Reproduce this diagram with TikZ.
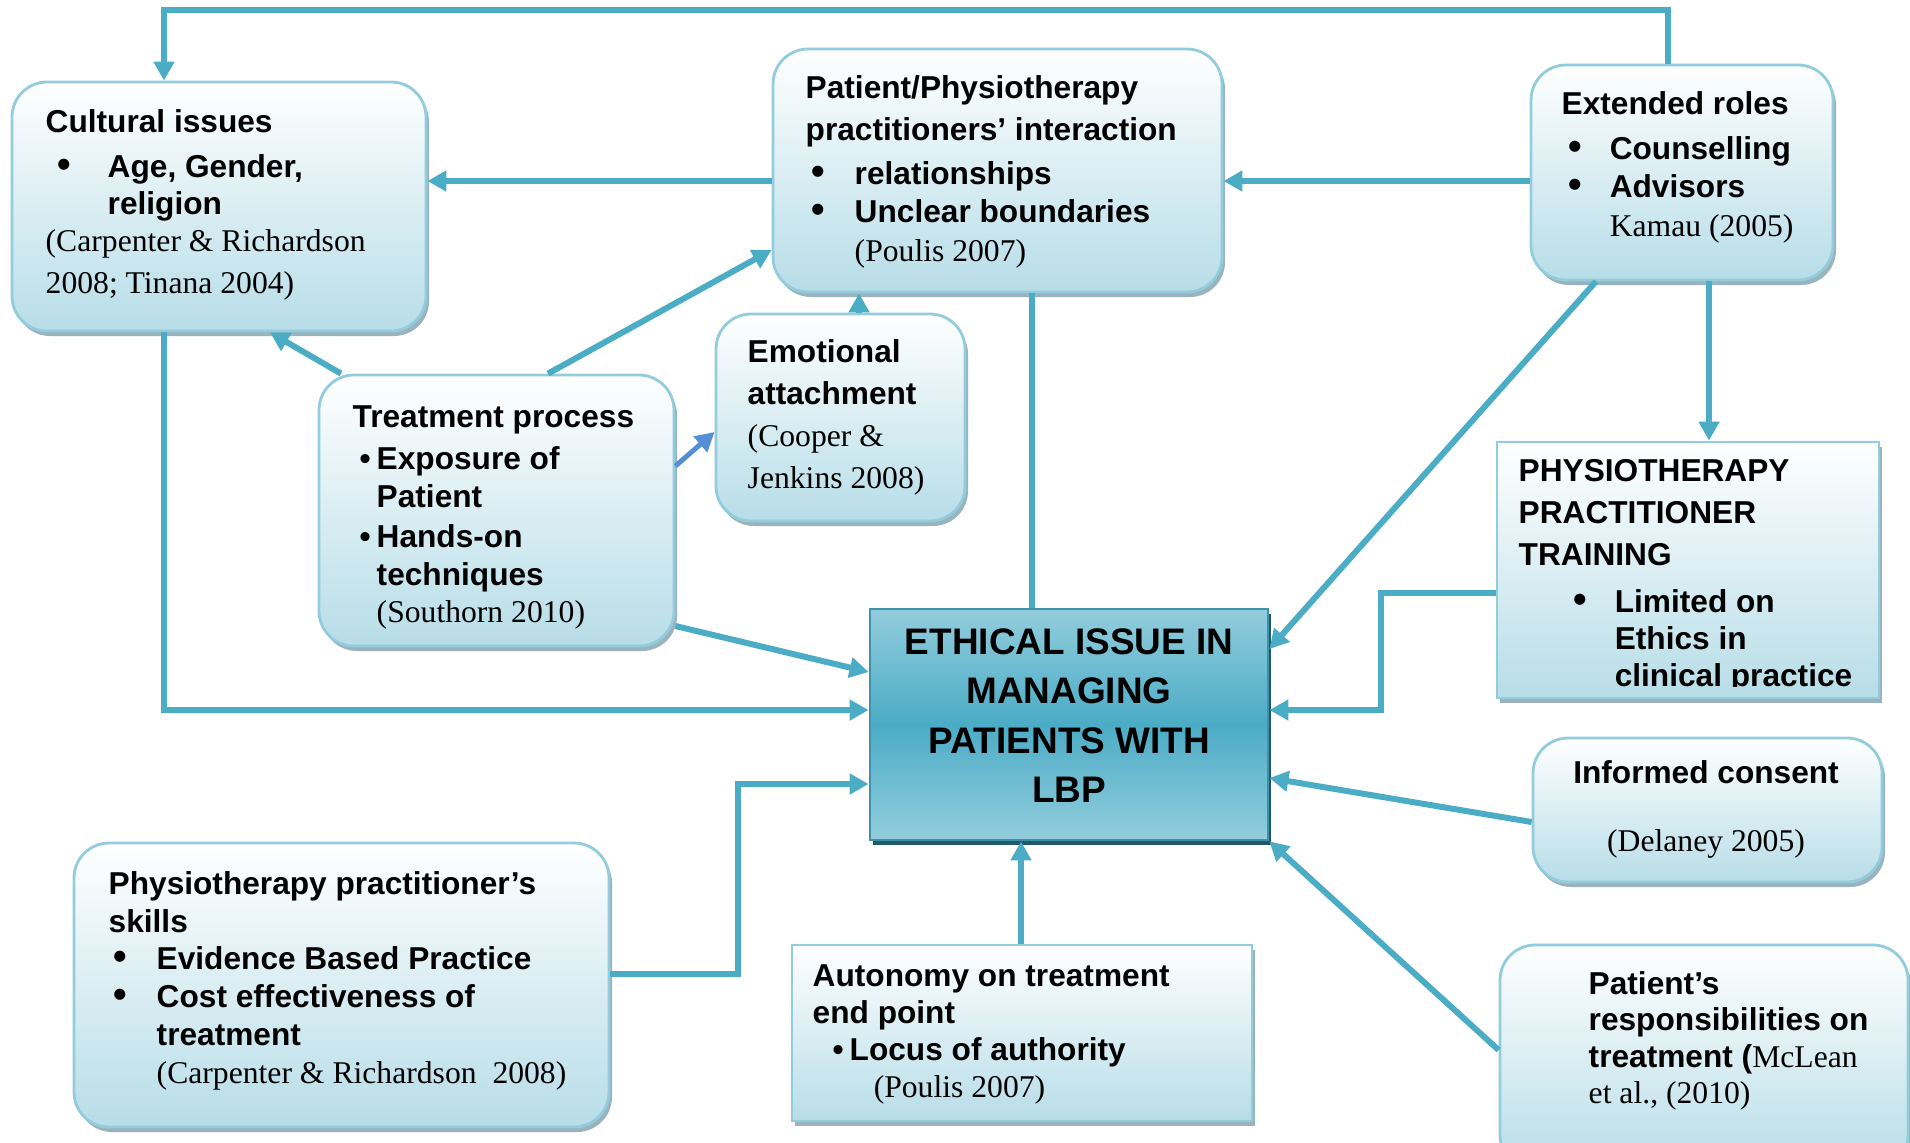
\documentclass[tikz,border=0pt]{standalone}
\usepackage{fontspec}
\setmainfont{Liberation Sans}
\newfontfamily\reffont{Liberation Serif}
\usetikzlibrary{arrows.meta,fit,shadows}

\definecolor{strelka}{HTML}{4BACC6}
\definecolor{ramka}{HTML}{93CDDD}
\definecolor{niz}{HTML}{B7DDE8}
\definecolor{ten}{HTML}{9AB3BD}
\definecolor{centrsvet}{HTML}{93CDDD}
\definecolor{centrten}{HTML}{215968}
\definecolor{sinij}{HTML}{558ED5}

\newcommand{\bul}[2]{\hspace*{#1}\makebox[#2][l]{\fontsize{11}{11}\selectfont\textbullet}}% крупный маркер
\newcommand{\mbul}[2]{\hspace*{#1}\makebox[#2][l]{\textbullet}}% мелкий маркер
\newcommand{\ssylka}[1]{{\reffont\mdseries #1}}% ссылка прямым шрифтом
\newcommand{\lcol}[1]{\begin{tabular}[t]{@{}l@{}}#1\end{tabular}}% строки влево
\newcommand{\ccol}[1]{\begin{tabular}[t]{@{}c@{}}#1\end{tabular}}% строки по центру

\begin{document}
\begin{tikzpicture}[x=0.01cm,y=-0.01cm,
  box/.style={draw=ramka,line width=0.8pt,top color=white,bottom color=niz,
    rounded corners=3.5mm,inner sep=0pt,
    drop shadow={shadow xshift=0.3mm,shadow yshift=-0.5mm,fill=ten,opacity=1}},
  sqbox/.style={box,sharp corners},
  cbox/.style={draw=strelka!85!black,line width=0.8pt,top color=centrsvet,
    bottom color=centrsvet,middle color=strelka,inner sep=0pt,
    drop shadow={shadow xshift=0.3mm,shadow yshift=-0.5mm,fill=centrten,opacity=1}},
  txt/.style={anchor=base west,inner sep=0pt,
    font=\fontsize{9}{#1}\selectfont\bfseries},
  arr/.style={draw=strelka,line width=1.7pt,-{Triangle[length=1.9mm,width=2mm]}},
  lin/.style={draw=strelka,line width=1.7pt}]

\useasboundingbox (0,0) rectangle (1910,1142);
\clip (0,0) rectangle (1910,1142);

\node[box,fit={(12,82) (426,331)}] (cult) {};% рамки
\node[box,fit={(773,49) (1222,292)}] (pat) {};
\node[box,fit={(1531,65) (1833,280)}] (ext) {};
\node[box,fit={(716,314) (965,521)}] (emo) {};
\node[box,fit={(319,375) (674,646)}] (treat) {};
\node[cbox,fit={(870,609) (1268,840)}] (cent) {};
\node[sqbox,fit={(1497,442) (1879,698)}] (train) {};
\node[box,fit={(1533,738) (1882,882)}] (inf) {};
\node[box,fit={(1500,945) (1908,1170)}] (resp) {};
\node[sqbox,fit={(792,945) (1252,1121)}] (auto) {};
\node[box,fit={(74,843) (609,1127)}] (skill) {};

\node[txt=10.5pt] (cultT) at (45,132) {\lcol{Cultural issues\\[2.5pt]
  \bul{0.12cm}{0.50cm}Age, Gender,\\
  \hspace*{0.62cm}religion\\
  \ssylka{(Carpenter \& Richardson}\\[1.5pt]
  \ssylka{2008; Tinana 2004)}}};
\node[txt=11pt] (patT) at (805,98) {\lcol{Patient/Physiotherapy\\[1pt]
  practitioners’ interaction\\[1.5pt]
  \bul{0.06cm}{0.43cm}relationships\\
  \bul{0.06cm}{0.43cm}Unclear boundaries\\
  \hspace*{0.49cm}\ssylka{(Poulis 2007)}}};
\node[txt=11pt] (extT) at (1561,114) {\lcol{Extended roles\\[1.8pt]
  \bul{0.07cm}{0.41cm}Counselling\\
  \bul{0.07cm}{0.41cm}Advisors\\
  \hspace*{0.48cm}\ssylka{Kamau (2005)}}};
\node[txt=12pt] (emoT) at (747,362) {\lcol{Emotional\\ attachment\\
  \ssylka{(Cooper \&}\\ \ssylka{Jenkins 2008)}}};
\node[txt=10.7pt] (treatT) at (352,427) {\lcol{Treatment process\\[1.5pt]
  \mbul{0.07cm}{0.17cm}Exposure of\\
  \hspace*{0.24cm}Patient\\[0.7pt]
  \mbul{0.07cm}{0.17cm}Hands-on\\
  \hspace*{0.24cm}techniques\\
  \hspace*{0.24cm}\ssylka{(Southorn 2010)}}};
\node[anchor=base,inner sep=0pt,
  font=\fontsize{10.5}{14.1pt}\selectfont\bfseries] (centT) at (1069,654)
  {\ccol{ETHICAL ISSUE IN\\ MANAGING\\ PATIENTS WITH\\ LBP}};
\begin{scope}
\clip (1497,442) rectangle (1879,686);% нижняя строка обрезана
\node[txt=10.5pt] (trainT) at (1518,481) {\lcol{PHYSIOTHERAPY\\[1.5pt]
  PRACTITIONER\\[1.5pt]
  TRAINING\\[2.9pt]
  \bul{0.55cm}{0.41cm}Limited on\\
  \hspace*{0.96cm}Ethics in\\
  \hspace*{0.96cm}clinical practice}};
\end{scope}
\node[txt=19.6pt,anchor=base] (infT) at (1706,783)
  {\ccol{Informed consent\\ \ssylka{(Delaney 2005)}}};
\node[txt=10.4pt] (respT) at (1588,994) {\lcol{Patient’s\\ responsibilities on\\
  treatment (\ssylka{McLean}\\ \ssylka{et al., (2010)}}};
\node[txt=10.6pt] (autoT) at (812,986) {\lcol{Autonomy on treatment\\ end point\\
  \mbul{0.20cm}{0.17cm}Locus of authority\\
  \hspace*{0.61cm}\ssylka{(Poulis 2007)}}};
\node[txt=10.8pt] (skillT) at (108,894) {\lcol{Physiotherapy practitioner’s\\ skills\\
  \bul{0.05cm}{0.43cm}Evidence Based Practice\\
  \bul{0.05cm}{0.43cm}Cost effectiveness of\\
  \hspace*{0.48cm}treatment\\
  \hspace*{0.48cm}\ssylka{(Carpenter \& Richardson\ \ 2008)}}};

\coordinate (v1) at (1668,10);% изломы линий
\coordinate (v2) at (164,10);
\coordinate (v3) at (164,710);
\coordinate (v4) at (1381,593);
\coordinate (v5) at (1381,710);
\coordinate (v6) at (738,974);
\coordinate (v7) at (738,784);

\draw[arr] (ext.north -| v1) -- (v1) -- (v2) -- (cult.north -| v2);
\draw[arr] (pat.west |- 0,181) -- (cult.east |- 0,181);
\draw[arr] (ext.west |- 0,181) -- (pat.east |- 0,181);
\draw[arr] (cult.south -| v3) -- (v3) -- (cent.west |- v3);
\draw[arr] (treat.north -| 341,0) -- (cult.south -| 270,0);
\draw[arr] (treat.north -| 548,0) -- (pat.west |- 0,250);
\draw[arr,draw=sinij,line width=1.4pt] (treat.east |- 0,466) -- (emo.west |- 0,432);
\draw[arr] (emo.north -| 859,0) -- (pat.south -| 859,0);
\draw[lin] (pat.south -| 1032,0) -- (cent.north -| 1032,0);
\draw[arr] (treat.east |- 0,626) -- (cent.west |- 0,672);
\draw[arr] (ext.south -| 1596,0) -- (cent.east |- 0,649);
\draw[arr] (ext.south -| 1709,0) -- (train.north -| 1709,0);
\draw[arr] (train.west |- v4) -- (v4) -- (v5) -- (cent.east |- v5);
\draw[arr] (inf.west |- 0,822) -- (cent.east |- 0,778);
\draw[arr] (resp.west |- 0,1050) -- (cent.south east);
\draw[arr] (auto.north -| 1021,0) -- (cent.south -| 1021,0);
\draw[arr] (skill.east |- v6) -- (v6) -- (v7) -- (cent.west |- v7);

\end{tikzpicture}
\end{document}
